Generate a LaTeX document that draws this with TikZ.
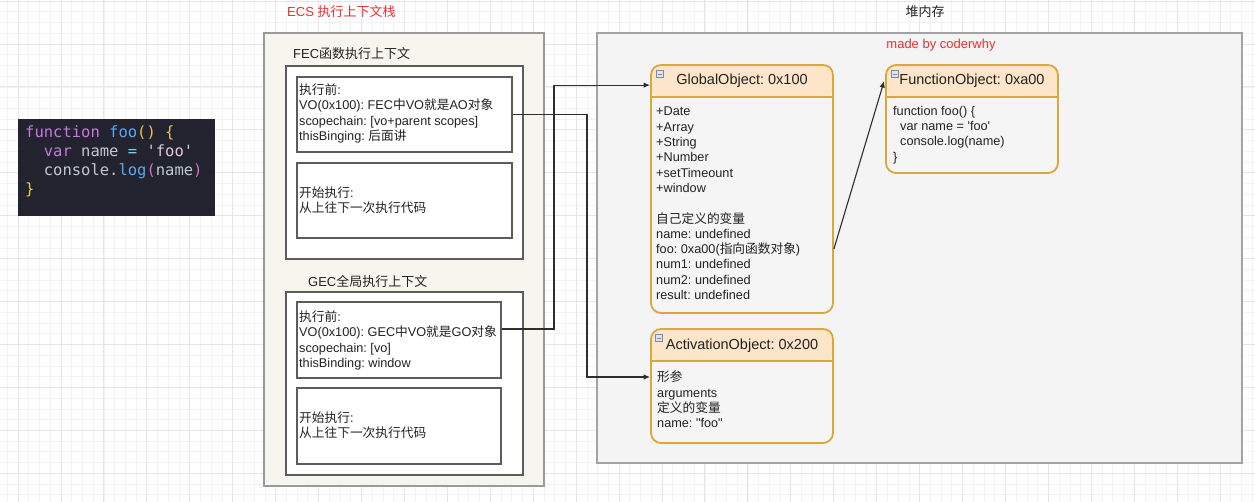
\documentclass[tikz,border=0pt]{standalone}
\usepackage{fontspec}
\setmainfont{Liberation Sans}
\newfontfamily\cjk{Noto Sans CJK SC}
\newfontfamily\codefont{DejaVu Sans Mono}
\usetikzlibrary{arrows.meta,shadows}
\newcommand\zh[1]{{\cjk #1}}
\frenchspacing

\definecolor{gridmajor}{HTML}{E6E6E6}
\definecolor{gridminor}{HTML}{F3F3F3}
\definecolor{stackfill}{HTML}{F6F5EE}
\definecolor{stackline}{HTML}{9A9A9A}
\definecolor{heapfill}{HTML}{F4F4F4}
\definecolor{heapline}{HTML}{A3A3A3}
\definecolor{boxline}{HTML}{5C5C5C}
\definecolor{objline}{HTML}{D8A93A}
\definecolor{objhead}{HTML}{FCE5C8}
\definecolor{objbody}{HTML}{F5F5F5}
\definecolor{iconfill}{HTML}{DCE3EE}
\definecolor{iconline}{HTML}{7F8C9E}
\definecolor{labelred}{HTML}{F02E2E}
\definecolor{ink}{HTML}{222222}
\definecolor{connline}{HTML}{2E2E2E}
\definecolor{codebg}{HTML}{22232E}
\definecolor{cKeyword}{HTML}{C678DD}
\definecolor{cFunc}{HTML}{5AA9F0}
\definecolor{cBrace}{HTML}{E8C254}
\definecolor{cPlain}{HTML}{BFC7D5}
\definecolor{cOp}{HTML}{7FD3E8}
\definecolor{cString}{HTML}{E2C8DC}
\definecolor{cParen}{HTML}{D070D0}

\begin{document}
\begin{tikzpicture}[x=1pt,y=-1pt,
  stackframe/.style={draw=stackline, line width=1.2pt, fill=stackfill, inner sep=0pt},
  ctxframe/.style={draw=boxline, line width=1.4pt, fill=white, inner sep=0pt},
  heapframe/.style={draw=heapline, line width=1.2pt, fill=heapfill, inner sep=0pt,
    drop shadow={shadow xshift=1.2pt, shadow yshift=-1.2pt, opacity=0.25}},
  objframe/.style={draw=objline, line width=1.8pt, fill=objbody, rounded corners=10pt, inner sep=0pt,
    path picture={\fill[objhead] (path picture bounding box.north west)
      rectangle ([yshift=-33pt]path picture bounding box.north east);}},
  objsep/.style={draw=objline, line width=1.8pt},
  objtitle/.style={inner sep=0pt, text=ink, font=\fontsize{14.5}{16}\selectfont},
  foldicon/.style={draw=iconline, fill=iconfill, line width=0.5pt, minimum size=7pt, inner sep=0pt,
    path picture={\draw[iconline, line width=0.8pt]
      ([xshift=1.5pt]path picture bounding box.west) -- ([xshift=-1.5pt]path picture bounding box.east);}},
  body/.style={anchor=west, align=left, inner sep=0pt, text=ink, font=\fontsize{12.7}{15.3}\selectfont},
  heading/.style={inner sep=0pt, text=ink, font=\fontsize{13}{15}\selectfont},
  redlabel/.style={inner sep=0pt, text=labelred, font=\fontsize{13}{15}\selectfont},
  codeline/.style={anchor=base west, inner sep=0pt, text=cPlain, font=\codefont\fontsize{15.5}{19}\selectfont},
  conn/.style={draw=connline, line width=1.1pt, -{Latex[length=6.5pt,width=5.5pt]}}
]
\useasboundingbox (0,0) rectangle (1255,502);
\fill[white] (0,0) rectangle (1255,502);

% background grid
\foreach \k in {0,...,116} \draw[gridminor, line width=0.6pt] ({7.27+\k*10.7325},0) -- ++(0,502);
\foreach \k in {0,...,46} \draw[gridminor, line width=0.6pt] (0,{1+\k*10.7325}) -- ++(1255,0);
\foreach \k in {0,...,28} \draw[gridmajor, line width=0.8pt] ({18+\k*42.93},0) -- ++(0,502);
\foreach \k in {0,...,11} \draw[gridmajor, line width=0.8pt] (0,{1+\k*42.93}) -- ++(1255,0);

% source code panel
\node[fill=codebg, minimum width=197pt, minimum height=97pt, inner sep=0pt] (code) at (116.5,167.5) {};
\node[codeline] (code1) at (25,137.5) {\textcolor{cKeyword}{function} \textcolor{cFunc}{foo}\textcolor{cBrace}{() \{}};
\node[codeline] (code2) at (43.7,156.5) {\textcolor{cKeyword}{var} name \textcolor{cOp}{=} \textcolor{cString}{\textquotesingle foo\textquotesingle}};
\node[codeline] (code3) at (43.7,175.5) {console.\textcolor{cFunc}{log}\textcolor{cParen}{(}name\textcolor{cParen}{)}};
\node[codeline] (code4) at (25,194.5) {\textcolor{cBrace}{\}}};

% execution context stack
\node[redlabel, anchor=west] (ecsTitle) at (287,12) {ECS \zh{执行上下文栈}};
\node[stackframe, minimum width=280pt, minimum height=453pt] (ecs) at (404,259.5) {};

\node[heading, anchor=west] (fecTitle) at (293,54) {FEC\zh{函数执行上下文}};
\node[ctxframe, minimum width=237pt, minimum height=193pt] (fec) at (404.5,162.5) {};
\node[ctxframe, minimum width=215pt, minimum height=75pt] (fecA) at (404.5,114.5) {};
\node[ctxframe, minimum width=215pt, minimum height=75pt] (fecB) at (404.5,200.5) {};
\node[body] (fecAText) at (299,113.5) {\zh{执行前}:\\VO(0x100): FEC\zh{中}VO\zh{就是}AO\zh{对象}\\scopechain: [vo+parent scopes]\\thisBinging: \zh{后面讲}};
\node[body] (fecBText) at (299,200) {\zh{开始执行}:\\\zh{从上往下一次执行代码}};

\node[heading, anchor=west] (gecTitle) at (308,282) {GEC\zh{全局执行上下文}};
\node[ctxframe, minimum width=237pt, minimum height=183pt] (gec) at (404.5,383.5) {};
\node[ctxframe, minimum width=204pt, minimum height=76pt] (gecA) at (399,340) {};
\node[ctxframe, minimum width=204pt, minimum height=76pt] (gecB) at (399,426) {};
\node[body] (gecAText) at (299,340.5) {\zh{执行前}:\\VO(0x100): GEC\zh{中}VO\zh{就是}GO\zh{对象}\\scopechain: [vo]\\thisBinding: window};
\node[body] (gecBText) at (299,425.5) {\zh{开始执行}:\\\zh{从上往下一次执行代码}};

% heap
\node[heading] (heapTitle) at (925,12) {\zh{堆内存}};
\node[heapframe, minimum width=645pt, minimum height=430pt] (heap) at (919.5,248) {};
\node[redlabel] (credit) at (941,45) {made by coderwhy};

% global object
\node[objframe, minimum width=182pt, minimum height=248pt] (go) at (742,189) {};
\draw[objsep] ([yshift=-33pt]go.north west) -- ([yshift=-33pt]go.north east);
\node[objtitle] (goTitle) at ([yshift=-17pt]go.north) {GlobalObject: 0x100};
\node[foldicon] (goFold) at ([xshift=10pt,yshift=-10pt]go.north west) {};
\node[body] (goText) at (656,203.4) {+Date\\+Array\\+String\\+Number\\+setTimeount\\+window\\[15.3pt]\zh{自己定义的变量}\\name: undefined\\foo: 0xa00(\zh{指向函数对象})\\num1: undefined\\num2: undefined\\result: undefined};

% function object
\node[objframe, minimum width=172pt, minimum height=108pt] (fo) at (972,119) {};
\draw[objsep] ([yshift=-33pt]fo.north west) -- ([yshift=-33pt]fo.north east);
\node[objtitle] (foTitle) at ([yshift=-17pt]fo.north) {FunctionObject: 0xa00};
\node[foldicon] (foFold) at ([xshift=10pt,yshift=-10pt]fo.north west) {};
\node[body] (foText) at (893,135) {function foo() \{\\\hspace*{7pt}var name = \textquotesingle foo\textquotesingle\\\hspace*{7pt}console.log(name)\\\}};

% activation object
\node[objframe, minimum width=182pt, minimum height=114pt] (ao) at (742,386) {};
\draw[objsep] ([yshift=-33pt]ao.north west) -- ([yshift=-33pt]ao.north east);
\node[objtitle] (aoTitle) at ([yshift=-18pt]ao.north) {ActivationObject: 0x200};
\node[foldicon] (aoFold) at ([xshift=9pt,yshift=-10pt]ao.north west) {};
\node[body] (aoText) at (657,399.5) {\zh{形参}\\arguments\\\zh{定义的变量}\\name: \textquotedbl foo\textquotedbl};

% references
\coordinate (bendGec) at (554,0);
\coordinate (bendFec) at (587,0);
\coordinate (gecOut) at ([yshift=11pt]gecA.east);
\coordinate (goIn) at ([yshift=-21pt]go.north west);
\coordinate (aoIn) at ([yshift=9pt]ao.west);
\coordinate (goOut) at ([yshift=-60pt]go.east);
\coordinate (foIn) at ([xshift=-1pt,yshift=-17pt]fo.north west);
\draw[conn] (gecOut) -- (gecOut -| bendGec) -- (bendGec |- goIn) -- (goIn);
\draw[conn] (fecA.east) -- (fecA.east -| bendFec) -- (bendFec |- aoIn) -- (aoIn);
\draw[conn] (goOut) -- (foIn);
\end{tikzpicture}
\end{document}
